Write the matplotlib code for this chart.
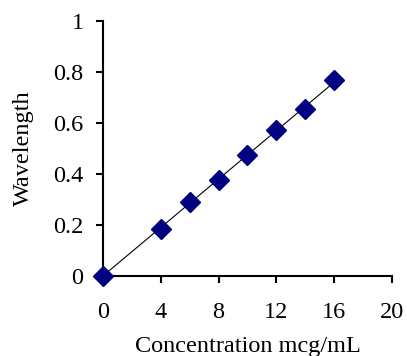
import matplotlib
matplotlib.use("Agg")
import matplotlib.pyplot as plt
import numpy as np

plt.rcParams['font.family'] = ['Liberation Serif', 'DejaVu Serif']

conc = [0, 4, 6, 8, 10, 12, 14, 16]
absorb = [0.0, 0.185, 0.291, 0.375, 0.473, 0.571, 0.656, 0.769]
xticks = [0, 4, 8, 12, 16, 20]
yticks = [0, 0.2, 0.4, 0.6, 0.8, 1]
ytick_labels = ['0', '0.2', '0.4', '0.6', '0.8', '1']

fig = plt.figure(figsize=(4.07, 3.56), dpi=100)
ax = fig.add_axes([0.253, 0.225, 0.710, 0.716])

x = np.array(conc, dtype=float)
y = np.array(absorb, dtype=float)
slope = np.sum(x * y) / np.sum(x * x)
xl = np.array([x.min(), x.max()])
ax.plot(xl, slope * xl, color='black', lw=0.8, zorder=2)
ax.plot(x, y, linestyle='none', marker='D', markersize=10, color='#000080',
        markeredgecolor='#000080', zorder=3, clip_on=False)

ax.set_xlim(0, 20)
ax.set_ylim(0, 1)
ax.set_xticks(xticks)
ax.set_xticklabels([str(t) for t in xticks])
ax.set_yticks(yticks)
ax.set_yticklabels(ytick_labels)
for s in ['top', 'right']:
    ax.spines[s].set_visible(False)
for s in ['left', 'bottom']:
    ax.spines[s].set_linewidth(1.5)
ax.tick_params(direction='out', length=5, width=1.5, labelsize=17.5)
ax.tick_params(axis='x', pad=14)
ax.tick_params(axis='y', pad=9)
ax.set_xlabel('Concentration mcg/mL', fontsize=17.5, labelpad=9.5)
ax.set_ylabel('Wavelength', fontsize=17.5, labelpad=14)

fig.savefig('out.png', dpi=100)
